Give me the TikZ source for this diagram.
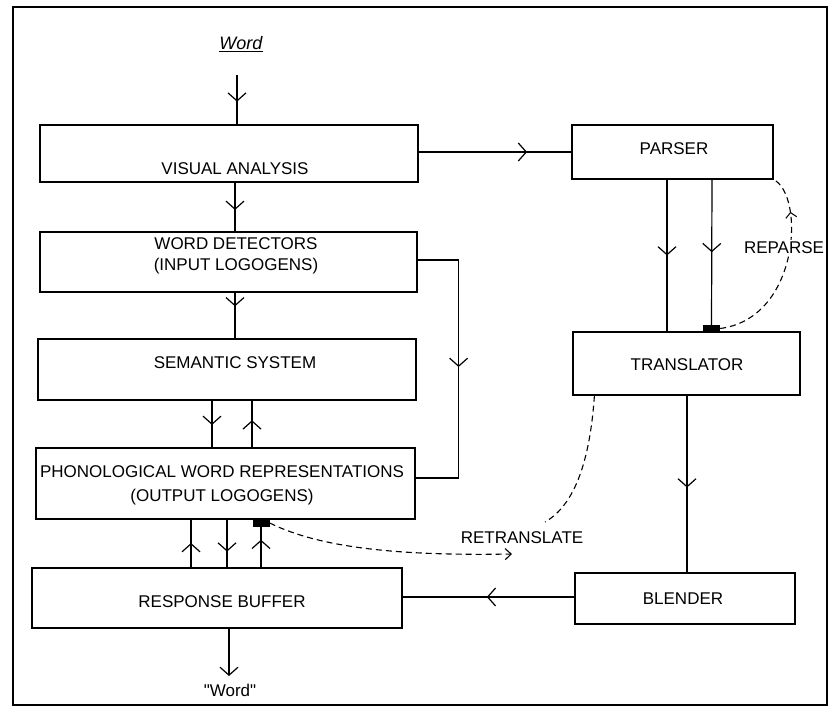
\documentclass[tikz,border=0pt]{standalone}
\usepackage{fontspec}
\setmainfont{Liberation Sans}
\usetikzlibrary{arrows.meta,decorations.markings,calc}
\tikzset{
  box/.style={draw, line width=1.2pt, inner sep=0pt},
  txt/.style={font=\fontsize{17}{21}\selectfont, inner sep=0pt, align=center},
  conn/.style={line width=1.2pt},
  midarr/.style={postaction={decorate}, decoration={markings, mark=at position #1 with {\arrow{Straight Barb[length=8pt,width=18pt,line width=1.2pt]}}}},
  smallarr/.style={postaction={decorate}, decoration={markings, mark=at position #1 with {\arrow{Straight Barb[length=5pt,width=11pt,line width=1pt]}}}},
  dashline/.style={line width=1.1pt, dash pattern=on 6pt off 4pt},
  blackmark/.style={fill=black, draw=none, inner sep=0pt, minimum width=17pt, minimum height=7pt}
}
\begin{document}
\begin{tikzpicture}[x=1pt,y=-1pt]
\useasboundingbox (0,0) rectangle (837,706);
% frame
\draw[line width=1.4pt] (13,7) rectangle (827,705);

% boxes
\node[box, minimum width=378pt, minimum height=57pt] (va) at (229,153.5) {};
\node[box, minimum width=377pt, minimum height=60pt] (wd) at (228.5,262) {};
\node[box, minimum width=378pt, minimum height=61pt] (sem) at (227,369.5) {};
\node[box, minimum width=379pt, minimum height=71pt] (phon) at (225.5,483.5) {};
\node[box, minimum width=370pt, minimum height=60pt] (resp) at (217,598) {};
\node[box, minimum width=201pt, minimum height=54pt] (parser) at (672.5,152) {};
\node[box, minimum width=227pt, minimum height=63pt] (trans) at (686.5,363.5) {};
\node[box, minimum width=220pt, minimum height=51pt] (blend) at (685,598.5) {};

% texts
\node[txt] (vat) at (235,169) {VISUAL ANALYSIS};
\node[txt] (wdt) at (236,255.5) {WORD DETECTORS\\(INPUT LOGOGENS)};
\node[txt] (semt) at (235,363) {SEMANTIC SYSTEM};
\node[txt, font=\fontsize{17}{24}\selectfont] (phont) at (222,485) {PHONOLOGICAL WORD REPRESENTATIONS\\(OUTPUT LOGOGENS)};
\node[txt] (respt) at (222,602) {RESPONSE BUFFER};
\node[txt] (parsert) at (674,149) {PARSER};
\node[txt] (transt) at (687,365) {TRANSLATOR};
\node[txt] (blendt) at (683,599) {BLENDER};
\node[txt] (retrans) at (522,538) {RETRANSLATE};
\node[txt, font=\fontsize{18}{20}\selectfont] (wordin) at (241,44) {\underline{\textit{Word}}};
\node[txt] (wordout) at (230,690) {\textquotedbl Word\textquotedbl};

% black marks
\node[blackmark] (bm1) at (261,523) {};
\node[blackmark] (bm2) at (711.5,328.5) {};

% column / row coordinates
\coordinate (w1) at (237,75);
\coordinate (c235) at (235,0);
\coordinate (c212) at (212,0);
\coordinate (c252) at (252,0);
\coordinate (c191) at (191,0);
\coordinate (c227) at (227,0);
\coordinate (c261) at (261,0);
\coordinate (c229) at (229,0);
\coordinate (c667) at (667,0);
\coordinate (c712) at (712,0);
\coordinate (c687) at (687,0);
\coordinate (r152) at (0,152);
\coordinate (r260) at (0,260);
\coordinate (r478) at (0,478);
\coordinate (r597) at (0,597);
\coordinate (wtip) at (229,676);
\coordinate (rt1) at (545,522);
\coordinate (rt2) at (512,554);

% connectors
\draw[conn, midarr=0.54] (w1) -- (va.north -| w1);
\draw[conn, midarr=0.56] (va.south -| c235) -- (wd.north -| c235);
\draw[conn, midarr=0.3] (wd.south -| c235) -- (sem.north -| c235);
\draw[conn, midarr=0.52] (sem.south -| c212) -- (phon.north -| c212);
\draw[conn, midarr=0.58] (phon.north -| c252) -- (sem.south -| c252);
\draw[conn, midarr=0.51] (resp.north -| c191) -- (phon.south -| c191);
\draw[conn, midarr=0.67] (phon.south -| c227) -- (resp.north -| c227);
\draw[conn, midarr=0.68] (resp.north -| c261) -- (bm1.south);
\draw[conn, -{Straight Barb[length=8pt,width=18pt]}] (resp.south -| c229) -- (wtip);
\draw[conn, midarr=0.71] (va.east |- r152) -- (parser.west |- r152);
\draw[conn, midarr=0.49] (wd.east |- r260) -- ++(41,0) |- (phon.east |- r478);
\draw[conn, midarr=0.5] (parser.south -| c667) -- (trans.north -| c667);
\draw[conn, midarr=0.5] (parser.south -| c712) -- (bm2.north);
\draw[conn, midarr=0.52] (trans.south -| c687) -- (blend.north -| c687);
\draw[conn, midarr=0.51] (blend.west |- r597) -- (resp.east |- r597);

% dashed
\draw[dashline, smallarr=0.8] (bm2.east) .. controls (800,318) and (805,195) .. (parser.south east);
\node[txt, fill=white, inner sep=2pt] (reparse) at (784,248) {REPARSE};
\draw[dashline] ($(trans.south west)+(22,0)$) .. controls (590,460) and (575,505) .. (rt1);
\draw[dashline, -{Straight Barb[length=6pt,width=11pt]}] (bm1.east) .. controls (320,548) and (400,556) .. (rt2);
\end{tikzpicture}
\end{document}
